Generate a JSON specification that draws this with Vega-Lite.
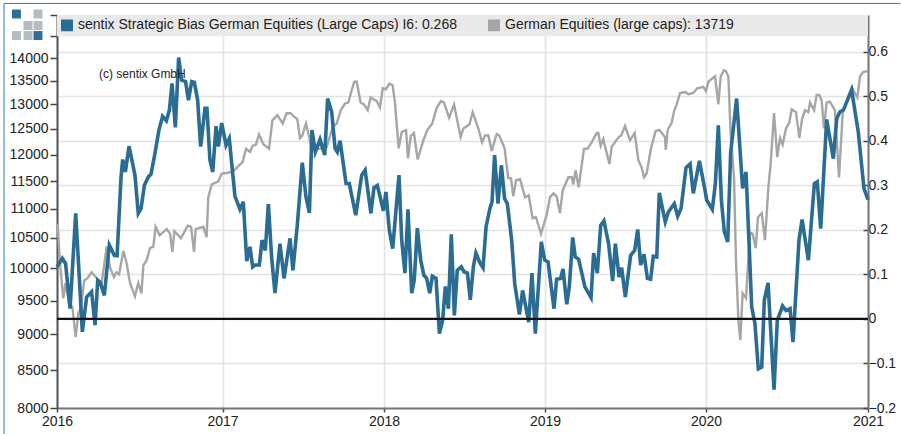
{"$schema":"https://vega.github.io/schema/vega-lite/v6.json","width":811,"height":393,"autosize":"none","padding":{"left":57,"top":15,"right":33,"bottom":26},"background":"white","config":{"view":{"stroke":null},"font":"Liberation Sans"},
"datasets":{
"blue":[{"t":2016.000,"v":0.117},{"t":2016.032,"v":0.136},{"t":2016.052,"v":0.124},{"t":2016.079,"v":0.023},{"t":2016.113,"v":0.237},{"t":2016.153,"v":-0.029},{"t":2016.179,"v":0.049},{"t":2016.209,"v":0.061},{"t":2016.230,"v":-0.014},{"t":2016.246,"v":0.087},{"t":2016.260,"v":0.083},{"t":2016.286,"v":0.053},{"t":2016.316,"v":0.166},{"t":2016.346,"v":0.143},{"t":2016.363,"v":0.142},{"t":2016.387,"v":0.319},{"t":2016.397,"v":0.358},{"t":2016.413,"v":0.330},{"t":2016.435,"v":0.388},{"t":2016.471,"v":0.323},{"t":2016.491,"v":0.237},{"t":2016.508,"v":0.248},{"t":2016.528,"v":0.300},{"t":2016.552,"v":0.319},{"t":2016.568,"v":0.325},{"t":2016.592,"v":0.372},{"t":2016.616,"v":0.424},{"t":2016.638,"v":0.455},{"t":2016.661,"v":0.445},{"t":2016.679,"v":0.469},{"t":2016.695,"v":0.529},{"t":2016.715,"v":0.430},{"t":2016.735,"v":0.587},{"t":2016.753,"v":0.536},{"t":2016.777,"v":0.533},{"t":2016.794,"v":0.491},{"t":2016.814,"v":0.533},{"t":2016.830,"v":0.531},{"t":2016.850,"v":0.491},{"t":2016.868,"v":0.387},{"t":2016.894,"v":0.473},{"t":2016.906,"v":0.473},{"t":2016.924,"v":0.357},{"t":2016.941,"v":0.330},{"t":2016.961,"v":0.433},{"t":2016.975,"v":0.387},{"t":2016.995,"v":0.440},
{"t":2017.022,"v":0.390},{"t":2017.042,"v":0.405},{"t":2017.059,"v":0.342},{"t":2017.077,"v":0.276},{"t":2017.108,"v":0.246},{"t":2017.129,"v":0.263},{"t":2017.150,"v":0.130},{"t":2017.170,"v":0.162},{"t":2017.187,"v":0.117},{"t":2017.201,"v":0.121},{"t":2017.228,"v":0.121},{"t":2017.245,"v":0.177},{"t":2017.265,"v":0.154},{"t":2017.284,"v":0.258},{"t":2017.304,"v":0.139},{"t":2017.325,"v":0.058},{"t":2017.356,"v":0.169},{"t":2017.381,"v":0.091},{"t":2017.418,"v":0.181},{"t":2017.436,"v":0.109},{"t":2017.463,"v":0.210},{"t":2017.494,"v":0.351},{"t":2017.517,"v":0.274},{"t":2017.538,"v":0.238},{"t":2017.554,"v":0.424},{"t":2017.575,"v":0.375},{"t":2017.604,"v":0.403},{"t":2017.633,"v":0.368},{"t":2017.651,"v":0.495},{"t":2017.676,"v":0.465},{"t":2017.697,"v":0.383},{"t":2017.711,"v":0.375},{"t":2017.728,"v":0.400},{"t":2017.765,"v":0.304},{"t":2017.785,"v":0.304},{"t":2017.825,"v":0.233},{"t":2017.862,"v":0.323},{"t":2017.883,"v":0.334},{"t":2017.919,"v":0.237},{"t":2017.938,"v":0.295},{"t":2017.959,"v":0.300},{"t":2017.996,"v":0.243},
{"t":2018.012,"v":0.285},{"t":2018.033,"v":0.199},{"t":2018.054,"v":0.158},{"t":2018.093,"v":0.323},{"t":2018.110,"v":0.177},{"t":2018.130,"v":0.103},{"t":2018.149,"v":0.246},{"t":2018.172,"v":0.058},{"t":2018.188,"v":0.087},{"t":2018.207,"v":0.204},{"t":2018.228,"v":0.132},{"t":2018.248,"v":0.098},{"t":2018.265,"v":0.091},{"t":2018.284,"v":0.058},{"t":2018.300,"v":0.096},{"t":2018.323,"v":0.091},{"t":2018.344,"v":-0.033},{"t":2018.364,"v":-0.003},{"t":2018.381,"v":0.073},{"t":2018.400,"v":0.023},{"t":2018.418,"v":0.190},{"t":2018.437,"v":0.008},{"t":2018.455,"v":0.109},{"t":2018.480,"v":0.117},{"t":2018.497,"v":0.106},{"t":2018.518,"v":0.103},{"t":2018.536,"v":0.043},{"t":2018.555,"v":0.117},{"t":2018.571,"v":0.148},{"t":2018.596,"v":0.126},{"t":2018.615,"v":0.115},{"t":2018.634,"v":0.207},{"t":2018.658,"v":0.248},{"t":2018.671,"v":0.263},{"t":2018.687,"v":0.368},{"t":2018.708,"v":0.259},{"t":2018.729,"v":0.345},{"t":2018.749,"v":0.270},{"t":2018.766,"v":0.259},{"t":2018.793,"v":0.177},{"t":2018.812,"v":0.079},{"t":2018.841,"v":0.010},{"t":2018.861,"v":0.064},{"t":2018.899,"v":-0.007},{"t":2018.919,"v":0.103},{"t":2018.940,"v":-0.033},{"t":2018.977,"v":0.173},{"t":2018.998,"v":0.132},
{"t":2019.019,"v":0.128},{"t":2019.056,"v":0.023},{"t":2019.072,"v":0.089},{"t":2019.097,"v":0.091},{"t":2019.112,"v":0.112},{"t":2019.135,"v":0.033},{"t":2019.151,"v":0.072},{"t":2019.172,"v":0.183},{"t":2019.188,"v":0.139},{"t":2019.209,"v":0.134},{"t":2019.248,"v":0.072},{"t":2019.286,"v":0.048},{"t":2019.302,"v":0.148},{"t":2019.325,"v":0.103},{"t":2019.346,"v":0.210},{"t":2019.366,"v":0.220},{"t":2019.395,"v":0.169},{"t":2019.420,"v":0.085},{"t":2019.437,"v":0.169},{"t":2019.460,"v":0.094},{"t":2019.476,"v":0.115},{"t":2019.499,"v":0.049},{"t":2019.532,"v":0.143},{"t":2019.557,"v":0.154},{"t":2019.576,"v":0.201},{"t":2019.594,"v":0.121},{"t":2019.615,"v":0.145},{"t":2019.636,"v":0.091},{"t":2019.656,"v":0.089},{"t":2019.673,"v":0.141},{"t":2019.694,"v":0.139},{"t":2019.710,"v":0.283},{"t":2019.747,"v":0.218},{"t":2019.766,"v":0.240},{"t":2019.803,"v":0.259},{"t":2019.824,"v":0.231},{"t":2019.845,"v":0.248},{"t":2019.876,"v":0.340},{"t":2019.901,"v":0.348},{"t":2019.921,"v":0.282},{"t":2019.959,"v":0.355},{"t":2019.994,"v":0.289},
{"t":2020.004,"v":0.267},{"t":2020.039,"v":0.246},{"t":2020.058,"v":0.304},{"t":2020.076,"v":0.435},{"t":2020.095,"v":0.267},{"t":2020.113,"v":0.196},{"t":2020.134,"v":0.173},{"t":2020.152,"v":0.372},{"t":2020.189,"v":0.495},{"t":2020.226,"v":0.293},{"t":2020.247,"v":0.330},{"t":2020.265,"v":0.177},{"t":2020.282,"v":0.027},{"t":2020.302,"v":-0.010},{"t":2020.323,"v":-0.112},{"t":2020.344,"v":-0.108},{"t":2020.360,"v":0.042},{"t":2020.383,"v":0.081},{"t":2020.420,"v":-0.159},{"t":2020.440,"v":-0.003},{"t":2020.473,"v":0.029},{"t":2020.494,"v":0.019},{"t":2020.519,"v":0.023},{"t":2020.537,"v":-0.052},{"t":2020.574,"v":0.177},{"t":2020.593,"v":0.223},{"t":2020.632,"v":0.132},{"t":2020.669,"v":0.304},{"t":2020.687,"v":0.308},{"t":2020.708,"v":0.203},{"t":2020.745,"v":0.448},{"t":2020.786,"v":0.360},{"t":2020.807,"v":0.450},{"t":2020.827,"v":0.465},{"t":2020.848,"v":0.469},{"t":2020.899,"v":0.514},{"t":2020.940,"v":0.420},{"t":2020.975,"v":0.293},{"t":2021.000,"v":0.268}],
"gray":[{"t":2016.004,"p":10745},{"t":2016.018,"p":10085},{"t":2016.038,"p":9536},{"t":2016.052,"p":9770},{"t":2016.073,"p":9460},{"t":2016.093,"p":9400},{"t":2016.113,"p":8960},{"t":2016.129,"p":9310},{"t":2016.145,"p":9400},{"t":2016.165,"p":9815},{"t":2016.185,"p":9846},{"t":2016.209,"p":9940},{"t":2016.230,"p":9877},{"t":2016.246,"p":9830},{"t":2016.270,"p":9770},{"t":2016.300,"p":10355},{"t":2016.320,"p":10020},{"t":2016.344,"p":9862},{"t":2016.359,"p":9940},{"t":2016.375,"p":9908},{"t":2016.401,"p":10285},{"t":2016.421,"p":10085},{"t":2016.441,"p":9770},{"t":2016.471,"p":9567},{"t":2016.491,"p":9770},{"t":2016.510,"p":9610},{"t":2016.522,"p":10052},{"t":2016.542,"p":10134},{"t":2016.562,"p":10330},{"t":2016.582,"p":10355},{"t":2016.596,"p":10690},{"t":2016.620,"p":10545},{"t":2016.663,"p":10650},{"t":2016.683,"p":10570},{"t":2016.697,"p":10270},{"t":2016.709,"p":10615},{"t":2016.749,"p":10495},{"t":2016.790,"p":10710},{"t":2016.810,"p":10690},{"t":2016.828,"p":10270},{"t":2016.838,"p":10650},{"t":2016.884,"p":10690},{"t":2016.904,"p":10515},{"t":2016.914,"p":11205},{"t":2016.935,"p":11440},{"t":2016.975,"p":11495},{"t":2016.995,"p":11640},
{"t":2017.026,"p":11650},{"t":2017.067,"p":11680},{"t":2017.092,"p":11760},{"t":2017.125,"p":11860},{"t":2017.146,"p":12110},{"t":2017.170,"p":12050},{"t":2017.187,"p":12170},{"t":2017.207,"p":12190},{"t":2017.226,"p":12390},{"t":2017.253,"p":12200},{"t":2017.288,"p":12110},{"t":2017.309,"p":12673},{"t":2017.340,"p":12780},{"t":2017.373,"p":12610},{"t":2017.397,"p":12820},{"t":2017.422,"p":12820},{"t":2017.443,"p":12750},{"t":2017.463,"p":12700},{"t":2017.480,"p":12320},{"t":2017.494,"p":12370},{"t":2017.517,"p":12610},{"t":2017.538,"p":12320},{"t":2017.552,"p":12100},{"t":2017.583,"p":12110},{"t":2017.598,"p":12110},{"t":2017.645,"p":12140},{"t":2017.682,"p":12535},{"t":2017.707,"p":12610},{"t":2017.732,"p":12880},{"t":2017.758,"p":13020},{"t":2017.779,"p":13040},{"t":2017.800,"p":13300},{"t":2017.816,"p":13480},{"t":2017.831,"p":13480},{"t":2017.855,"p":13040},{"t":2017.876,"p":13000},{"t":2017.899,"p":12880},{"t":2017.917,"p":13150},{"t":2017.955,"p":13070},{"t":2017.975,"p":12940},{"t":2017.992,"p":13340},
{"t":2018.012,"p":13320},{"t":2018.033,"p":13440},{"t":2018.054,"p":13400},{"t":2018.068,"p":13040},{"t":2018.091,"p":12120},{"t":2018.110,"p":12440},{"t":2018.137,"p":12480},{"t":2018.149,"p":11925},{"t":2018.166,"p":12360},{"t":2018.186,"p":12420},{"t":2018.209,"p":11905},{"t":2018.244,"p":12275},{"t":2018.269,"p":12480},{"t":2018.300,"p":12610},{"t":2018.327,"p":12930},{"t":2018.354,"p":13070},{"t":2018.373,"p":13040},{"t":2018.404,"p":12730},{"t":2018.435,"p":13000},{"t":2018.476,"p":12340},{"t":2018.493,"p":12510},{"t":2018.530,"p":12590},{"t":2018.551,"p":12840},{"t":2018.586,"p":12510},{"t":2018.609,"p":12235},{"t":2018.627,"p":12370},{"t":2018.648,"p":12370},{"t":2018.669,"p":12070},{"t":2018.700,"p":12400},{"t":2018.716,"p":12370},{"t":2018.749,"p":12120},{"t":2018.772,"p":11555},{"t":2018.789,"p":11555},{"t":2018.803,"p":11225},{"t":2018.820,"p":11515},{"t":2018.845,"p":11535},{"t":2018.876,"p":11205},{"t":2018.899,"p":11240},{"t":2018.923,"p":10837},{"t":2018.944,"p":10855},{"t":2018.975,"p":10570},
{"t":2019.010,"p":10890},{"t":2019.031,"p":11205},{"t":2019.052,"p":11275},{"t":2019.072,"p":11225},{"t":2019.093,"p":10925},{"t":2019.110,"p":11330},{"t":2019.145,"p":11570},{"t":2019.166,"p":11570},{"t":2019.176,"p":11440},{"t":2019.190,"p":11700},{"t":2019.209,"p":11385},{"t":2019.242,"p":12110},{"t":2019.263,"p":12110},{"t":2019.290,"p":12235},{"t":2019.321,"p":12420},{"t":2019.331,"p":12420},{"t":2019.346,"p":12170},{"t":2019.362,"p":12300},{"t":2019.400,"p":11820},{"t":2019.414,"p":12150},{"t":2019.433,"p":12230},{"t":2019.458,"p":12340},{"t":2019.474,"p":12370},{"t":2019.497,"p":12560},{"t":2019.528,"p":12275},{"t":2019.557,"p":12420},{"t":2019.580,"p":11889},{"t":2019.600,"p":11760},{"t":2019.615,"p":11570},{"t":2019.631,"p":11640},{"t":2019.658,"p":12110},{"t":2019.687,"p":12460},{"t":2019.710,"p":12480},{"t":2019.745,"p":12340},{"t":2019.750,"p":12090},{"t":2019.762,"p":12480},{"t":2019.787,"p":12630},{"t":2019.803,"p":12880},{"t":2019.818,"p":13000},{"t":2019.839,"p":13240},{"t":2019.870,"p":13260},{"t":2019.890,"p":13215},{"t":2019.921,"p":13240},{"t":2019.946,"p":13340},{"t":2019.983,"p":13370},
{"t":2020.000,"p":13280},{"t":2020.016,"p":13490},{"t":2020.056,"p":13600},{"t":2020.076,"p":13000},{"t":2020.091,"p":13600},{"t":2020.111,"p":13730},{"t":2020.123,"p":13710},{"t":2020.138,"p":13600},{"t":2020.152,"p":12420},{"t":2020.173,"p":11570},{"t":2020.185,"p":10134},{"t":2020.200,"p":9207},{"t":2020.212,"p":8918},{"t":2020.226,"p":9610},{"t":2020.247,"p":9536},{"t":2020.261,"p":10134},{"t":2020.272,"p":10590},{"t":2020.288,"p":10570},{"t":2020.307,"p":10330},{"t":2020.321,"p":10855},{"t":2020.344,"p":10925},{"t":2020.364,"p":10463},{"t":2020.385,"p":11385},{"t":2020.399,"p":11820},{"t":2020.420,"p":12820},{"t":2020.440,"p":11950},{"t":2020.457,"p":12320},{"t":2020.473,"p":12190},{"t":2020.494,"p":12510},{"t":2020.514,"p":12630},{"t":2020.529,"p":12900},{"t":2020.556,"p":12840},{"t":2020.576,"p":12320},{"t":2020.593,"p":12700},{"t":2020.611,"p":12880},{"t":2020.632,"p":12840},{"t":2020.642,"p":13040},{"t":2020.667,"p":12880},{"t":2020.683,"p":13200},{"t":2020.700,"p":13200},{"t":2020.714,"p":13084},{"t":2020.728,"p":12510},{"t":2020.745,"p":13040},{"t":2020.765,"p":13060},{"t":2020.796,"p":12880},{"t":2020.821,"p":11570},{"t":2020.844,"p":12820},{"t":2020.868,"p":13084},{"t":2020.899,"p":13360},{"t":2020.934,"p":13150},{"t":2020.951,"p":13600},{"t":2020.971,"p":13690},{"t":2021.000,"p":13719}],
"logoB":[{"t":2015.755,"p":15024},{"t":2015.885,"p":14516}],
"logoG":[{"t":2015.885,"p":15024},{"t":2015.825,"p":14750},{"t":2015.885,"p":14750},{"t":2015.755,"p":14516},{"t":2015.825,"p":14516}]
},
"encoding":{"x":{"field":"t","type":"quantitative","title":null,"scale":{"domain":[2016,2017,2018,2019,2020,2021],"range":[0,165.5,327,488,649,811],"nice":false,"zero":false},"axis":{"values":[2016,2017,2018,2019,2020,2021],"format":"d","grid":true,"gridColor":"#e2e2e2","gridWidth":1.6,"domainColor":"#777777","domainWidth":2,"tickColor":"#444444","tickSize":4,"tickWidth":1.5,"labelFont":"Liberation Sans","labelFontSize":14,"labelColor":"#222222","labelPadding":2,"labelOverlap":false,"labelFlush":false}}},
"layer":[
{"data":{"values":[{"t":2016,"t2":2021,"p":14500,"p2":15000}]},"mark":{"type":"rect","color":"#e9e9e9"},"encoding":{"x2":{"field":"t2"},"y":{"field":"p","type":"quantitative","scale":{"type":"log","domain":[8000,15000],"nice":false},"axis":null},"y2":{"field":"p2"}}},
{"data":{"name":"gray"},"mark":{"type":"line","strokeWidth":2.4,"interpolate":"linear"},"encoding":{"y":{"field":"p","type":"quantitative","title":null,"scale":{"type":"log","domain":[8000,15000],"nice":false},"axis":{"orient":"left","values":[8000,8500,9000,9500,10000,10500,11000,11500,12000,12500,13000,13500,14000,14500,15000],"labelExpr":"datum.value<=14000?format(datum.value,'d'):''","grid":false,"domainColor":"#555555","domainWidth":2,"tickColor":"#444444","tickSize":7,"tickWidth":1.5,"labelFont":"Liberation Sans","labelFontSize":14,"labelColor":"#222222","labelPadding":2,"labelOverlap":false}},"color":{"datum":"German Equities (large caps): 13719"}}},
{"data":{"name":"blue"},"mark":{"type":"line","strokeWidth":3.6,"interpolate":"linear"},"encoding":{"y":{"field":"v","type":"quantitative","title":null,"scale":{"domain":[-0.2,0.6825],"nice":false,"zero":false},"axis":{"orient":"right","values":[-0.2,-0.1,0,0.1,0.2,0.3,0.4,0.5,0.6],"format":".1~f","grid":true,"gridColor":"#e2e2e2","gridWidth":1.6,"domainColor":"#777777","domainWidth":2,"tickColor":"#444444","tickSize":-5,"tickWidth":1.5,"labelFont":"Liberation Sans","labelFontSize":14,"labelColor":"#222222","labelPadding":5,"labelOverlap":false}},"color":{"datum":"sentix Strategic Bias German Equities (Large Caps) I6: 0.268","scale":{"domain":["sentix Strategic Bias German Equities (Large Caps) I6: 0.268","German Equities (large caps): 13719"],"range":["#2b6c92","#a6a6a6"]},"legend":{"title":null,"orient":"none","legendX":3,"legendY":3,"direction":"horizontal","columns":2,"symbolType":"square","symbolSize":110,"labelFont":"Liberation Sans","labelFontSize":14,"labelColor":"#222222","labelLimit":500,"labelOffset":4,"columnPadding":28,"encode":{"symbols":{"update":{"fill":{"scale":"color","field":"value"},"stroke":{"value":"#222222"},"strokeWidth":{"value":1.5},"opacity":{"value":1}}}}}}}},
{"data":{"values":[{"v":0,"t":2016,"t2":2021}]},"mark":{"type":"rule","color":"#111111","strokeWidth":2.2},"encoding":{"x2":{"field":"t2"},"y":{"field":"v","type":"quantitative","scale":{"domain":[-0.2,0.6825],"nice":false,"zero":false},"axis":null}}},
{"data":{"values":[{"t":2016.254,"p":13640,"label":"(c) sentix GmbH"}]},"mark":{"type":"text","align":"left","baseline":"middle","font":"Liberation Sans","fontSize":12,"color":"#222222"},"encoding":{"y":{"field":"p","type":"quantitative","scale":{"type":"log","domain":[8000,15000],"nice":false},"axis":null},"text":{"field":"label"}}},
{"data":{"name":"logoB"},"mark":{"type":"point","shape":"square","filled":true,"size":80,"color":"#2f6f96","opacity":1,"clip":false},"encoding":{"y":{"field":"p","type":"quantitative","scale":{"type":"log","domain":[8000,15000],"nice":false},"axis":null}}},
{"data":{"name":"logoG"},"mark":{"type":"point","shape":"square","filled":true,"size":80,"color":"#b3bcc2","opacity":1,"clip":false},"encoding":{"y":{"field":"p","type":"quantitative","scale":{"type":"log","domain":[8000,15000],"nice":false},"axis":null}}},
{"data":{"values":[{"t":2015.68,"p":15280,"t2":2021.2}]},"mark":{"type":"rule","color":"#2a7cc0","strokeWidth":1},"encoding":{"x2":{"field":"t2"},"y":{"field":"p","type":"quantitative","scale":{"type":"log","domain":[8000,15000],"nice":false},"axis":null}}},
{"data":{"values":[{"t":2015.68,"p":15280,"p2":7674}]},"mark":{"type":"rule","color":"#2a7cc0","strokeWidth":1},"encoding":{"y":{"field":"p","type":"quantitative","scale":{"type":"log","domain":[8000,15000],"nice":false},"axis":null},"y2":{"field":"p2"}}}
],
"resolve":{"scale":{"y":"independent"}}}
